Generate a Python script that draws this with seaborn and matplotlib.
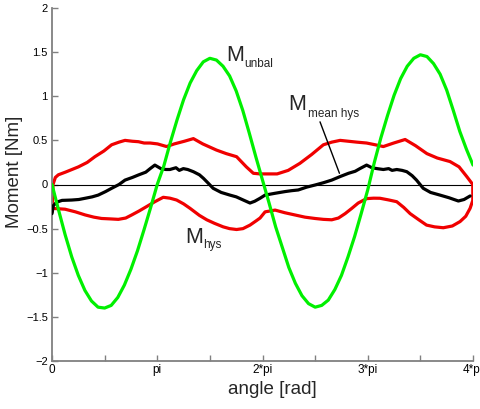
import numpy as np
import pandas as pd
import matplotlib
matplotlib.use("Agg")
import matplotlib.pyplot as plt
import seaborn as sns

PI = np.pi

# ---- data ----
green_idx = list(range(65))  # samples at k*pi/16
unbal_vals = [0.00, -0.29, -0.57, -0.82, -1.03, -1.20, -1.32, -1.39, -1.40, -1.37, -1.28, -1.14, -0.96, -0.75, -0.51, -0.26, 0.00,
              0.21, 0.48, 0.73, 0.96, 1.15, 1.29, 1.39, 1.43, 1.41, 1.34, 1.23, 1.06, 0.84, 0.58, 0.31, 0.05,
              -0.21, -0.48, -0.71, -0.94, -1.12, -1.26, -1.35, -1.39, -1.37, -1.31, -1.19, -1.03, -0.82, -0.59, -0.33, -0.06,
              0.25, 0.53, 0.78, 1.01, 1.20, 1.34, 1.43, 1.47, 1.45, 1.37, 1.25, 1.07, 0.84, 0.60, 0.40, 0.22]

hys_up_ang = [0.00, 0.03, 0.10, 0.19, 0.40, 0.79, 1.05, 1.28, 1.55, 1.78, 2.00, 2.18, 2.40, 2.58, 2.75,
              2.93, 3.15, 3.42, 3.65, 3.95, 4.22, 4.50, 4.91, 5.20, 5.51, 5.80, 6.01, 6.21, 6.45, 6.72,
              7.05, 7.40, 7.75, 8.10, 8.35, 8.60, 8.85, 9.10, 9.39, 9.65, 9.89, 10.20, 10.54, 10.85, 11.19,
              11.50, 11.88, 12.15, 12.38, 12.56]
hys_up_val = [-0.31, 0.00, 0.08, 0.11, 0.14, 0.20, 0.25, 0.315, 0.38, 0.45, 0.48, 0.50, 0.49, 0.485, 0.47,
              0.47, 0.46, 0.43, 0.46, 0.49, 0.52, 0.46, 0.39, 0.35, 0.315, 0.20, 0.127, 0.12, 0.12, 0.12,
              0.16, 0.24, 0.34, 0.45, 0.48, 0.50, 0.49, 0.48, 0.47, 0.45, 0.43, 0.47, 0.51, 0.44, 0.35,
              0.30, 0.26, 0.20, 0.09, 0.00]

hys_lo_ang = [0.00, 0.39, 0.70, 0.99, 1.25, 1.48, 1.75, 1.98, 2.20, 2.38, 2.60, 2.78, 3.07, 3.32, 3.52,
              3.72, 3.93, 4.12, 4.40, 4.62, 4.85, 5.11, 5.30, 5.51, 5.70, 5.91, 6.10, 6.21, 6.36, 6.66,
              6.95, 7.25, 7.55, 7.85, 8.10, 8.35, 8.55, 8.75, 8.95, 9.14, 9.39, 9.60, 9.79, 10.05, 10.29,
              10.50, 10.69, 10.95, 11.18, 11.42, 11.68, 11.95, 12.18, 12.35, 12.48, 12.56]
hys_lo_val = [-0.27, -0.28, -0.31, -0.345, -0.37, -0.385, -0.39, -0.395, -0.38, -0.345, -0.30, -0.26, -0.195, -0.145, -0.155,
              -0.176, -0.22, -0.27, -0.35, -0.40, -0.44, -0.48, -0.50, -0.51, -0.50, -0.46, -0.41, -0.38, -0.31, -0.29,
              -0.32, -0.345, -0.37, -0.385, -0.395, -0.40, -0.38, -0.33, -0.27, -0.21, -0.16, -0.155, -0.156, -0.175, -0.195,
              -0.26, -0.33, -0.40, -0.46, -0.48, -0.49, -0.47, -0.42, -0.36, -0.27, -0.18]

mean_ang = [0.00, 0.04, 0.14, 0.30, 0.59, 0.80, 0.99, 1.20, 1.38, 1.60, 1.78, 2.00, 2.18, 2.40, 2.58,
            2.80, 2.93, 3.07, 3.25, 3.40, 3.52, 3.70, 3.80, 3.92, 4.05, 4.22, 4.40, 4.52, 4.65, 4.81,
            5.05, 5.31, 5.50, 5.71, 5.91, 6.05, 6.21, 6.36, 6.65, 6.96, 7.15, 7.35, 7.60, 7.85, 8.10,
            8.35, 8.60, 8.85, 9.05, 9.19, 9.39, 9.55, 9.70, 9.89, 10.05, 10.15, 10.29, 10.45, 10.59, 10.75,
            10.88, 11.08, 11.30, 11.58, 11.85, 12.00, 12.13, 12.30, 12.48]
mean_val = [-0.33, -0.24, -0.20, -0.18, -0.176, -0.17, -0.156, -0.14, -0.12, -0.08, -0.043, 0.00, 0.05, 0.08, 0.108,
            0.14, 0.18, 0.22, 0.18, 0.17, 0.17, 0.19, 0.16, 0.18, 0.17, 0.145, 0.11, 0.07, 0.02, -0.043,
            -0.09, -0.12, -0.14, -0.176, -0.21, -0.19, -0.156, -0.12, -0.10, -0.08, -0.07, -0.062, -0.03, -0.006, 0.02,
            0.05, 0.09, 0.127, 0.15, 0.18, 0.22, 0.19, 0.18, 0.17, 0.18, 0.16, 0.17, 0.16, 0.145, 0.10,
            0.05, -0.043, -0.09, -0.12, -0.15, -0.17, -0.187, -0.17, -0.13]

xtick_labels = ["0", "pi", "2*pi", "3*pi", "4*pi"]
ytick_vals = [-2, -1.5, -1, -0.5, 0, 0.5, 1, 1.5, 2]

# ---- style ----
sns.set_theme(style="white")
plt.rcParams["font.family"] = ["Liberation Sans", "DejaVu Sans"]

fig = plt.figure(figsize=(4.81, 4.09), dpi=100)
ax = fig.add_axes([52 / 481, 1 - 361 / 409, (473 - 52) / 481, (361 - 8) / 409])
ax.set_facecolor("white")

ax.axhline(0, color="black", lw=0.8, zorder=1)

# hysteresis loop: upper branch left->right, then lower branch right->left
loop_x = hys_up_ang + hys_lo_ang[::-1]
loop_y = hys_up_val + hys_lo_val[::-1]
df_loop = pd.DataFrame({"angle": loop_x, "moment": loop_y})
sns.lineplot(data=df_loop, x="angle", y="moment", sort=False, estimator=None,
             color="#f00000", lw=2.3, ax=ax, zorder=2)

df_mean = pd.DataFrame({"angle": mean_ang, "moment": mean_val})
sns.lineplot(data=df_mean, x="angle", y="moment", sort=False, estimator=None,
             color="black", lw=2.3, ax=ax, zorder=3)

df_unbal = pd.DataFrame({"angle": [k * PI / 16 for k in green_idx], "moment": unbal_vals})
sns.lineplot(data=df_unbal, x="angle", y="moment", sort=False, estimator=None,
             color="#00f000", lw=2.3, ax=ax, zorder=4)

# ---- axes ----
ax.set_xlim(0, 4 * PI)
ax.set_ylim(-2, 2)
ax.set_xticks([i * PI for i in range(5)])
ax.set_xticklabels(xtick_labels)
ax.set_xticks([(i + 0.5) * PI for i in range(4)], minor=True)
ax.set_yticks(ytick_vals)
ax.set_yticklabels([("%g" % v).replace("-", "\u2212") for v in ytick_vals])

for s in ["top", "right"]:
    ax.spines[s].set_visible(False)
for s in ["left", "bottom"]:
    ax.spines[s].set_color("#808080")
    ax.spines[s].set_linewidth(1.3)

ax.tick_params(which="both", direction="in", length=4, width=1, color="#808080",
               labelcolor="black")
ax.tick_params(axis="x", which="both", bottom=True, pad=2, labelsize=8.5)
ax.tick_params(axis="y", which="both", left=True, pad=3, labelsize=8)

ax.set_xlabel("angle [rad]", fontsize=13.5)
ax.set_ylabel("Moment [Nm]", fontsize=13.5)
ax.xaxis.set_label_coords(0.523, -0.058)
ax.yaxis.set_label_coords(-0.07, 0.535)

# ---- annotations ----
ax.text(5.19, 1.40, "M", fontsize=15.5, ha="left", va="baseline")
ax.text(5.73, 1.326, "unbal", fontsize=8.5, ha="left", va="baseline")
ax.text(7.05, 0.844, "M", fontsize=15.5, ha="left", va="baseline")
ax.text(7.65, 0.76, "mean hys", fontsize=8.5, ha="left", va="baseline")
ax.text(3.97, -0.663, "M", fontsize=15.5, ha="left", va="baseline")
ax.text(4.50, -0.723, "hys", fontsize=8.5, ha="left", va="baseline")
ax.plot([8.0, 8.58], [0.71, 0.127], color="black", lw=1.0, zorder=5)

fig.savefig("out.png", dpi=100, facecolor="white")
